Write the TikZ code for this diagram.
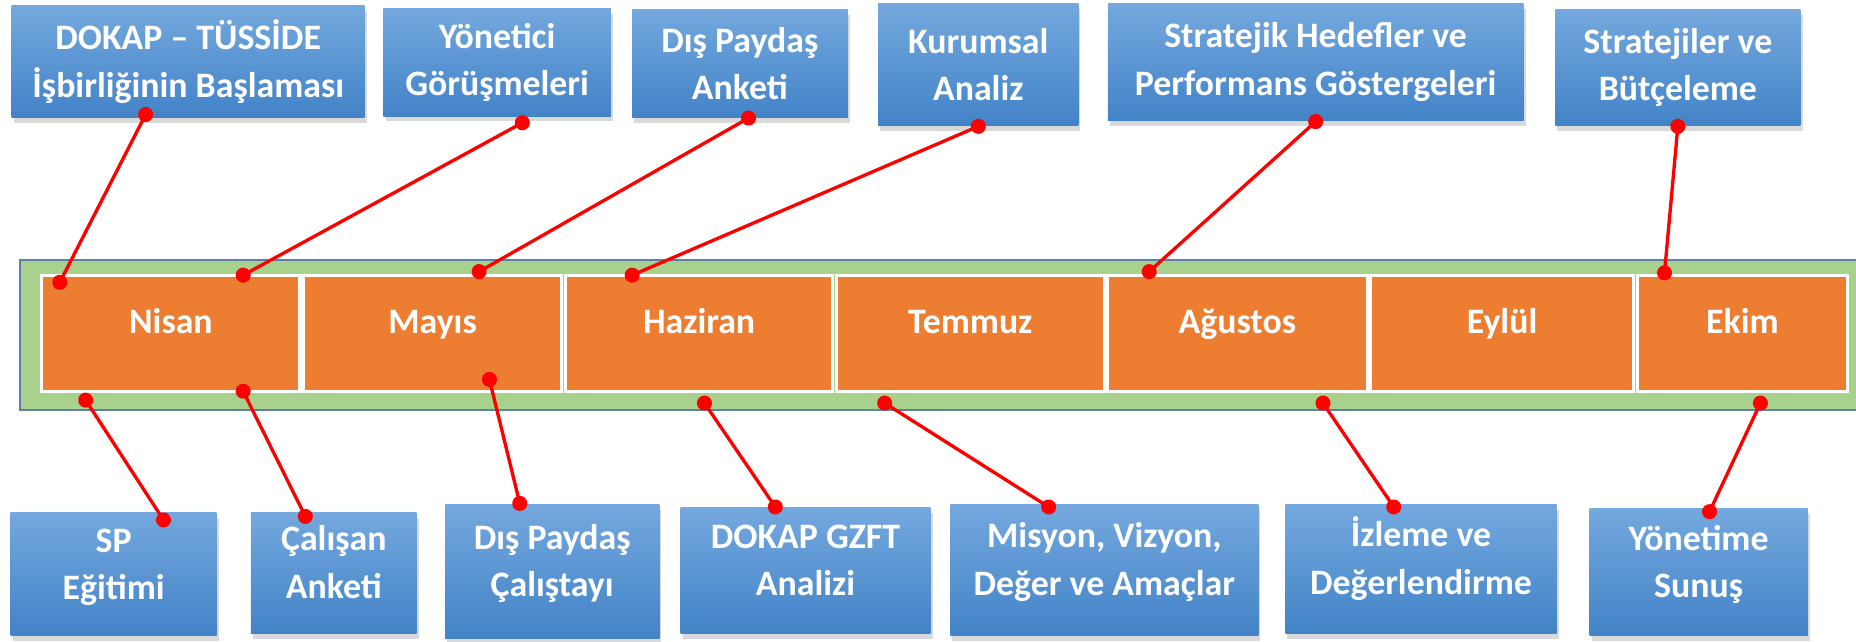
\documentclass[tikz,border=0pt]{standalone}
\usepackage{fontspec}
\setmainfont{Carlito}
\usetikzlibrary{arrows.meta, positioning, calc, shadows}
\definecolor{boxtop}{RGB}{116,168,222}
\definecolor{boxbot}{RGB}{66,131,199}
\definecolor{monthfill}{RGB}{237,125,49}
\definecolor{bandfill}{RGB}{169,209,142}
\definecolor{bandline}{RGB}{92,128,168}

\tikzset{
  task/.style={top color=boxtop, bottom color=boxbot, text=white, align=center,
    font=\fontsize{8.6}{11.4}\selectfont\bfseries, inner sep=0pt,
    drop shadow={shadow xshift=0.5pt, shadow yshift=-1.3pt, opacity=0.3}},
  lowtask/.style={task, text height=14.2pt, text depth=2pt},
  month/.style={fill=monthfill, draw=white, line width=0.75pt, outer sep=0pt,
    minimum height=0.98cm, text=white, font=\fontsize{8.6}{11.4}\selectfont\bfseries,
    text height=1ex, text depth=1ex},
  redlink/.style={draw=red, line width=0.8pt,
    {Circle[length=3.6pt]}-{Circle[length=3.6pt]}, shorten <=-1.8pt, shorten >=-1.8pt}
}

\begin{document}
\begin{tikzpicture}[x=0.01cm, y=-0.01cm]
  \useasboundingbox (0,0) rectangle (1568,542);

  % green band with the months
  \node[fill=bandfill, draw=bandline, line width=0.5pt, inner sep=0pt,
        minimum width=15.63cm, minimum height=1.26cm] (band) at (798.5,283) {};
  \node[month, minimum width=2.18cm, anchor=west] (nisan) at (35.3,281.5) {Nisan};
  \node[month, minimum width=2.18cm, right=0.03cm of nisan] (mayis) {Mayıs};
  \node[month, minimum width=2.26cm, right=0.03cm of mayis] (haziran) {Haziran};
  \node[month, minimum width=2.26cm, right=0.03cm of haziran] (temmuz) {Temmuz};
  \node[month, minimum width=2.19cm, right=0.03cm of temmuz] (agustos) {Ağustos};
  \node[month, minimum width=2.22cm, right=0.03cm of agustos] (eylul) {Eylül};
  \node[month, minimum width=1.78cm, right=0.03cm of eylul] (ekim) {Ekim};

  % upper row
  \node[task, minimum width=2.98cm, minimum height=0.94cm] (dokap) at (159,52)
       {DOKAP – TÜSSİDE\\İşbirliğinin Başlaması};
  \node[task, minimum width=1.92cm, minimum height=0.91cm] (yonetici) at (420,52.5)
       {Yönetici\\Görüşmeleri};
  \node[task, minimum width=1.82cm, minimum height=0.91cm] (anket) at (625,53.5)
       {Dış Paydaş\\Anketi};
  \node[task, minimum width=1.69cm, minimum height=1.03cm] (kurumsal) at (826.5,54.5)
       {Kurumsal\\Analiz};
  \node[task, minimum width=3.51cm, minimum height=0.99cm] (hedef) at (1111.5,52.5)
       {Stratejik Hedefler ve\\Performans Göstergeleri};
  \node[task, minimum width=2.07cm, minimum height=0.98cm] (butce) at (1417.5,57)
       {Stratejiler ve\\Bütçeleme};

  % lower row
  \node[lowtask, minimum width=1.74cm, minimum height=1.04cm] (egitim) at (96,485)
       {SP\\Eğitimi};
  \node[lowtask, minimum width=1.40cm, minimum height=1.02cm] (calisan) at (282,484)
       {Çalışan\\Anketi};
  \node[lowtask, minimum width=1.81cm, minimum height=1.13cm] (calistay) at (466.5,482.5)
       {Dış Paydaş\\Çalıştayı};
  \node[lowtask, minimum width=2.11cm, minimum height=1.06cm] (gzft) at (680.5,482)
       {DOKAP GZFT\\Analizi};
  \node[lowtask, minimum width=2.60cm, minimum height=1.11cm] (misyon) at (933,481.5)
       {Misyon, Vizyon,\\Değer ve Amaçlar};
  \node[lowtask, minimum width=2.29cm, minimum height=1.09cm] (izleme) at (1200.5,480.5)
       {İzleme ve\\Değerlendirme};
  \node[lowtask, minimum width=1.84cm, minimum height=1.07cm] (sunum) at (1435,483.5)
       {Yönetime\\Sunuş};

  % links to the upper row
  \draw[redlink] ($(dokap.south west)!.38!(dokap.south east)+(0,-3)$)
              -- ($(nisan.north west)!.07!(nisan.north east)+(0,6)$);
  \draw[redlink] ($(yonetici.south west)!.61!(yonetici.south east)+(0,5)$)
              -- ($(nisan.north west)!.78!(nisan.north east)$);
  \draw[redlink] ($(anket.south west)!.54!(anket.south east)$)
              -- ($(mayis.north west)!.68!(mayis.north east)+(0,-3)$);
  \draw[redlink] ($(kurumsal.south west)!.5!(kurumsal.south east)$)
              -- ($(haziran.north west)!.25!(haziran.north east)$);
  \draw[redlink] ($(hedef.south west)!.5!(hedef.south east)$)
              -- ($(agustos.north west)!.16!(agustos.north east)+(0,-3)$);
  \draw[redlink] ($(butce.south west)!.5!(butce.south east)$)
              -- ($(ekim.north west)!.13!(ekim.north east)+(0,-2)$);

  % links to the lower row
  \draw[redlink] ($(nisan.south west)!.17!(nisan.south east)+(0,7.5)$)
              -- ($(egitim.north west)!.74!(egitim.north east)+(0,7)$);
  \draw[redlink] ($(nisan.south west)!.78!(nisan.south east)$)
              -- ($(calisan.north west)!.33!(calisan.north east)+(0,4)$);
  \draw[redlink] ($(mayis.south west)!.72!(mayis.south east)+(0,-10)$)
              -- ($(calistay.north west)!.35!(calistay.north east)$);
  \draw[redlink] ($(haziran.south west)!.52!(haziran.south east)+(0,10)$)
              -- ($(gzft.north west)!.38!(gzft.north east)$);
  \draw[redlink] ($(temmuz.south west)!.18!(temmuz.south east)+(0,10)$)
              -- ($(misyon.north west)!.32!(misyon.north east)+(0,3)$);
  \draw[redlink] ($(agustos.south west)!.83!(agustos.south east)+(0,10)$)
              -- ($(izleme.north west)!.40!(izleme.north east)+(0,3)$);
  \draw[redlink] ($(ekim.south west)!.585!(ekim.south east)+(0,10)$)
              -- ($(sunum.north west)!.55!(sunum.north east)+(0,3)$);
\end{tikzpicture}
\end{document}
